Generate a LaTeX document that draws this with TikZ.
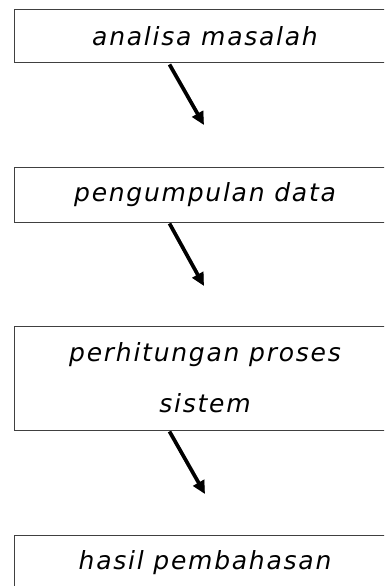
\documentclass[tikz,border=0pt]{standalone}
\usepackage{fontspec}
\newfontfamily\stepfont[LetterSpace=7]{DejaVu Sans}
\usetikzlibrary{arrows.meta,calc}
\tikzset{
  stepbox/.style={draw=black!75, line width=1pt, minimum width=382pt, inner sep=0pt,
    align=center, font=\stepfont\itshape\fontsize{25}{51}\selectfont},
  flowarrow/.style={line width=3.6pt, -{Triangle[length=13pt,width=12pt]}},
  arrowshadow/.style={flowarrow, draw=black!35, shift={(2pt,-2pt)}}
}
\begin{document}
\begin{tikzpicture}[x=1pt,y=-1pt]
  \useasboundingbox (0,0) rectangle (384,586);
  \clip (0,0) rectangle (384,586);
  \fill[white] (0,0) rectangle (384,586);

  % process steps
  \node[stepbox, minimum height=53pt]  (b1) at (205,36.5) {analisa masalah};
  \node[stepbox, minimum height=55pt]  (b2) at (205,194.5) {pengumpulan data};
  \node[stepbox, minimum height=104pt] (b3) at (205,378) {perhitungan proses\\sistem};
  \node[stepbox, minimum height=56pt]  (b4) at (205,563) {hasil pembahasan};

  % arrow tips
  \coordinate (t1) at (204,125);
  \coordinate (t2) at (204,286);
  \coordinate (t3) at (205,494);

  % arrows with a soft drop shadow
  \foreach \b/\t in {b1/t1, b2/t2, b3/t3} {
    \draw[arrowshadow] ($(\b.south west)+(156,1)$) -- (\t);
    \draw[flowarrow]   ($(\b.south west)+(156,1)$) -- (\t);
  }
\end{tikzpicture}
\end{document}
